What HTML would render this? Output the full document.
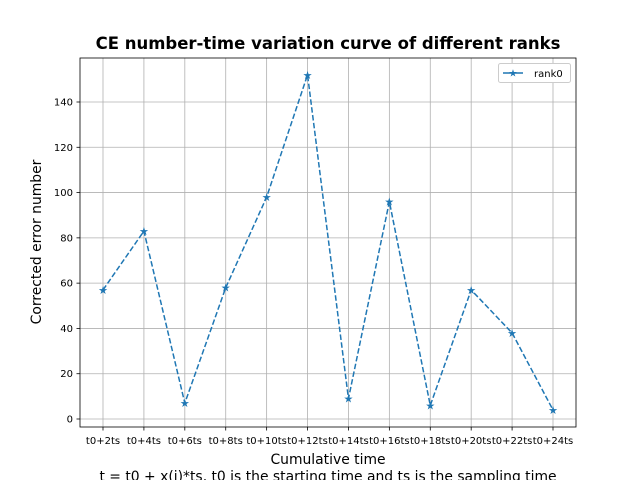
<!DOCTYPE html>
<html><head><meta charset="utf-8"><style>
html,body{margin:0;padding:0;background:#fff;}
svg{display:block;font-family:"DejaVu Sans","Liberation Sans",sans-serif;}
</style></head><body>
<svg id="chart" width="640" height="480">
<text x="328" y="49" text-anchor="middle" font-size="16.5" font-weight="bold">CE number-time variation curve of different ranks</text>
<g id="grid"></g>
<g id="ticks"></g>
<rect x="80" y="58" width="496" height="369" fill="none" stroke="#000" stroke-width="0.8"/>
<g id="series"></g>
<text x="328" y="464" text-anchor="middle" font-size="13.9">Cumulative time</text>
<text x="328" y="481" text-anchor="middle" font-size="13.9">t = t0 + x(i)*ts, t0 is the starting time and ts is the sampling time</text>
<text transform="translate(41,242) rotate(-90)" text-anchor="middle" font-size="13.9">Corrected error number</text>
<g>
<rect x="498.5" y="63.5" width="72" height="19" rx="2" fill="#fff" stroke="#ccc"/>
<line x1="503" y1="73" x2="523" y2="73" stroke="#1f77b4" stroke-width="1.5"/>
<text x="513" y="76.5" text-anchor="middle" font-size="10" fill="#1f77b4">★</text>
<text x="534" y="77" font-size="10">rank0</text>
</g>
</svg>
<script>
const categories=["t0+2ts","t0+4ts","t0+6ts","t0+8ts","t0+10ts","t0+12ts","t0+14ts","t0+16ts","t0+18ts","t0+20ts","t0+22ts","t0+24ts"];
const rank0=[57,83,7,58,98,152,9,96,6,57,38,4];
const yTicks=[0,20,40,60,80,100,120,140];
const NS="http://www.w3.org/2000/svg";
const X=i=>103+i*(553-103)/(categories.length-1);
const Y=v=>419-v*(419-102)/140;
const grid=document.getElementById('grid'),ticks=document.getElementById('ticks'),series=document.getElementById('series');
function mk(tag,attrs,parent){const e=document.createElementNS(NS,tag);for(const k in attrs)e.setAttribute(k,attrs[k]);parent.appendChild(e);return e;}
categories.forEach((c,i)=>{
  const g=mk('line',{x1:X(i),x2:X(i),y1:58,y2:427,stroke:'#b0b0b0','stroke-width':0.8},grid);
  
  
  const t=mk('line',{x1:X(i),x2:X(i),y1:427,y2:430.5,stroke:'#000','stroke-width':0.8},ticks);
  
  
  const l=mk('text',{x:X(i),y:444,'text-anchor':'middle','font-size':10},ticks);
  l.textContent=c;
  
  
});
yTicks.forEach(v=>{
  const g=mk('line',{x1:80,x2:576,y1:Y(v),y2:Y(v),stroke:'#b0b0b0','stroke-width':0.8},grid);
  
  
  const t=mk('line',{x1:76.5,x2:80,y1:Y(v),y2:Y(v),stroke:'#000','stroke-width':0.8},ticks);
  
  
  const l=mk('text',{x:73,y:Y(v)+3.5,'text-anchor':'end','font-size':10},ticks);
  l.textContent=v;
  
  
});
const p=mk('polyline',{points:rank0.map((v,i)=>X(i)+','+Y(v)).join(' '),fill:'none',stroke:'#1f77b4','stroke-width':1.5,'stroke-dasharray':'5.5,2.4'},series);


rank0.forEach((v,i)=>{
  const m=mk('text',{x:X(i),y:Y(v)+4,'text-anchor':'middle','font-size':11,fill:'#1f77b4'},series);
  m.textContent='★';
  
  
});
</script>
</body></html>
